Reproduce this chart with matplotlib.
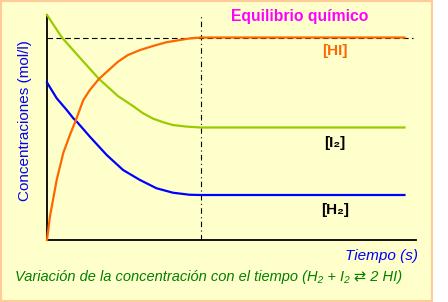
import matplotlib
matplotlib.use("Agg")
import matplotlib.pyplot as plt
from matplotlib.patches import Rectangle

# time (s) and concentration (mol/l), equilibrium at t = 10
t_i2 = [0, 0.97, 2.27, 3.38, 4.61, 5.58, 6.23, 6.88, 7.53, 8.18, 9.09, 10, 23.25]
c_i2 = [1.00, 0.90, 0.80, 0.716, 0.640, 0.596, 0.564, 0.540, 0.524, 0.511, 0.504, 0.50, 0.50]

t_hi = [0, 0.19, 0.63, 1.06, 1.49, 1.88, 2.36, 2.79, 3.38, 4.09, 4.61, 5.26, 6.04, 6.88, 7.77,
        9.29, 10, 23.25]
c_hi = [0, 0.104, 0.267, 0.387, 0.467, 0.533, 0.622, 0.667, 0.716, 0.76, 0.792, 0.822, 0.844,
        0.862, 0.879, 0.896, 0.90, 0.90]

t_h2 = [0, 0.63, 1.28, 1.71, 1.95, 2.79, 3.88, 4.95, 6.04, 7.12, 8.2, 9.29, 10, 23.25]
c_h2 = [0.70, 0.63, 0.578, 0.541, 0.525, 0.459, 0.378, 0.311, 0.267, 0.230, 0.210, 0.201, 0.20, 0.20]

t_eq = 10
t_max = 24

W, H = 448, 302
fig = plt.figure(figsize=(W / 100, H / 100), dpi=100, facecolor="white")

def fx(x):
    return x / W

def fy(y):
    return 1 - y / H

# yellow panel with peach border
fig.patches.append(Rectangle((fx(1), fy(300.5)), fx(431), 299.5 / H, transform=fig.transFigure,
                             facecolor="#FFFFCC", edgecolor="#FFCC99", linewidth=1.5, zorder=-5))

ax = fig.add_axes([fx(47), fy(240), fx(416) - fx(47), fy(15) - fy(240)])
ax.patch.set_alpha(0)
ax.set_xlim(0, t_max)
ax.set_ylim(0, 1)
for s in ["top", "right"]:
    ax.spines[s].set_visible(False)
for s in ["left", "bottom"]:
    ax.spines[s].set_linewidth(1.3)
    ax.spines[s].set_color("black")
ax.set_xticks([])
ax.set_yticks([])

ax.plot([0, 23.8], [c_hi[-1], c_hi[-1]], color="black", lw=0.8, ls=(0, (5, 3)), zorder=1)
ax.plot([t_eq, t_eq], [0, 1], color="black", lw=0.8, ls=(0, (5, 3, 1, 3)), zorder=1)

ax.plot(t_i2, c_i2, color="#99CC00", lw=1.6, clip_on=False, zorder=3)
ax.plot(t_h2, c_h2, color="#0000FF", lw=1.6, clip_on=False, zorder=3)
ax.plot(t_hi, c_hi, color="#FF6600", lw=1.6, clip_on=False, zorder=4)

font = ["Liberation Sans", "DejaVu Sans"]

fig.text(fx(231), fy(17), "Equilibrio químico", color="#FF00FF", fontsize=11.3, fontweight="bold",
         family=font, ha="left", va="center")
fig.text(fx(335), fy(51), "[HI]", color="#FF6600", fontsize=11, fontweight="bold",
         family=font, ha="center", va="center")
fig.text(fx(335), fy(143), "[I₂]", color="black", fontsize=11, fontweight="bold",
         family=font, ha="center", va="center")
fig.text(fx(335), fy(210), "[H₂]", color="black", fontsize=11, fontweight="bold",
         family=font, ha="center", va="center")
fig.text(fx(418), fy(256), "Tiempo (s)", color="#0000FF", fontsize=11, style="italic",
         family=font, ha="right", va="center")
fig.text(fx(25), fy(121), "Concentraciones (mol/l)", color="#0000FF", fontsize=11,
         rotation=90, family=font, ha="center", va="center")
fig.text(fx(15), fy(277), "Variación de la concentración con el tiempo (H₂ + I₂ ⇄ 2 HI)",
         color="#008000", fontsize=10.5, style="italic", family=font, ha="left", va="center")

fig.savefig("out.png", dpi=100, facecolor="white")
